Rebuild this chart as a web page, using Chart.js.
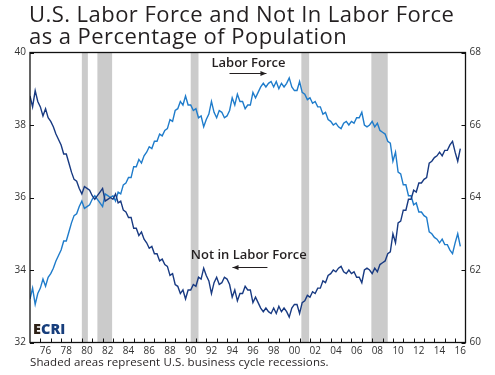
<!DOCTYPE html>
<html><head><meta charset="utf-8">
<script src="https://cdn.jsdelivr.net/npm/chart.js@4/dist/chart.umd.min.js"></script>
<style>
html,body{margin:0;padding:0;background:#fff;}
#wrap{position:relative;width:495px;height:375px;overflow:hidden;background:#fff;}
canvas{position:absolute;left:0;top:0;}
#title{position:absolute;left:29px;top:2px;font-family:'Open Sans';font-weight:500;font-size:22px;letter-spacing:0.45px;line-height:22px;color:#231f20;white-space:nowrap;}
#note{position:absolute;left:30px;top:355px;font-family:'Open Sans';font-size:11.5px;letter-spacing:0.1px;line-height:14px;color:#231f20;white-space:nowrap;}
#logo{position:absolute;left:33px;top:321px;font-family:'Open Sans';font-weight:800;font-size:14.5px;line-height:16px;}
</style></head>
<body><div id="wrap"><canvas id="c" width="495" height="375"></canvas>
<div id="title">U.S. Labor Force and Not In Labor Force<br>as a Percentage of Population</div>
<div id="logo"><span style="color:#2d2016">E</span><span style="color:#173e7c">CRI</span></div>
<div id="note">Shaded areas represent U.S. business cycle recessions.</div>
</div>
<script>
// quarterly observations starting 1975 Q1
const startYear = 1975;
const laborForce = [
 61.2,61.5,61.05,61.35,  61.5,61.75,61.55,61.8,  61.9,62.05,62.25,62.4,  62.55,62.8,62.8,63.05,
 63.3,63.5,63.55,63.75,  63.9,63.7,63.75,63.8,  63.95,64.05,63.95,63.85,  63.75,64.1,64.05,64.0,
 64.05,63.9,64.15,64.1,  64.35,64.4,64.55,64.55, 64.85,64.85,65.05,64.95, 65.15,65.25,65.4,65.35,
 65.55,65.55,65.75,65.7, 65.85,65.9,66.15,66.1,  66.4,66.45,66.65,66.55,  66.8,66.55,66.55,66.4,
 66.45,66.2,66.25,65.95, 66.15,66.3,66.65,66.35, 66.2,66.4,66.35,66.2,    66.25,66.4,66.75,66.55,
 66.85,66.65,66.65,66.45, 66.55,66.55,66.9,66.75, 66.9,67.05,67.15,67.05,  67.15,67.2,67.05,67.2,
 67.0,67.15,67.05,67.15, 67.3,67.05,66.95,66.95,  67.2,66.9,66.85,66.7,   66.75,66.6,66.65,66.5,
 66.5,66.3,66.35,66.15,  66.1,66.0,66.05,65.95,   65.9,66.05,66.1,66.0,   66.1,66.05,66.2,66.2,
 66.35,66.0,65.95,66.0,  66.1,65.95,66.05,65.85,  65.8,65.75,65.55,65.5,  65.0,65.25,64.7,64.65,
 64.35,64.35,64.05,64.05, 63.8,63.85,63.6,63.6,   63.5,63.45,63.05,63.0,  62.9,62.85,62.75,62.85,
 62.7,62.7,62.55,62.45,  62.75,63.0,62.65
];
const notInLaborForce = [
 38.8,38.5,38.95,38.65,  38.5,38.25,38.45,38.2,  38.1,37.95,37.75,37.6,  37.45,37.2,37.2,36.95,
 36.7,36.5,36.45,36.25,  36.1,36.3,36.25,36.2,  36.05,35.95,36.05,36.15,  36.25,35.9,35.95,36.0,
 35.95,36.1,35.85,35.9,  35.65,35.6,35.45,35.45, 35.15,35.15,34.95,35.05, 34.85,34.75,34.6,34.65,
 34.45,34.45,34.25,34.3, 34.15,34.1,33.85,33.9,  33.6,33.55,33.35,33.45,  33.2,33.45,33.45,33.6,
 33.55,33.8,33.75,34.05, 33.85,33.7,33.35,33.65, 33.8,33.6,33.65,33.8,    33.75,33.6,33.25,33.45,
 33.15,33.35,33.35,33.55, 33.45,33.45,33.1,33.25, 33.1,32.95,32.85,32.95,  32.85,32.8,32.95,32.8,
 33.0,32.85,32.95,32.85, 32.7,32.95,33.05,33.05,  32.8,33.1,33.15,33.3,   33.25,33.4,33.35,33.5,
 33.5,33.7,33.65,33.85,  33.9,34.0,33.95,34.05,   34.1,33.95,33.9,34.0,   33.9,33.95,33.8,33.8,
 33.65,34.0,34.05,34.0,  33.9,34.05,33.95,34.15,  34.2,34.25,34.45,34.5,  35.0,34.75,35.3,35.35,
 35.65,35.65,35.95,35.95, 36.2,36.15,36.4,36.4,   36.5,36.55,36.95,37.0,  37.1,37.15,37.25,37.15,
 37.3,37.3,37.45,37.55,  37.25,37.0,37.35
];
// recession periods (decimal years)
const recessions = [[1980.0,1980.58],[1981.5,1982.92],[1990.5,1991.25],[2001.17,2001.92],[2007.92,2009.5]];
const xTickYears = [1976.5,1978.5,1980.5,1982.5,1984.5,1986.5,1988.5,1990.5,1992.5,1994.5,1996.5,1998.5,2000.5,2002.5,2004.5,2006.5,2008.5,2010.5,2012.5,2014.5,2016.5];
const xTickLabels = ['76','78','80','82','84','86','88','90','92','94','96','98','00','02','04','06','08','10','12','14','16'];
const leftTicks = [32,34,36,38,40];
const rightTicks = [60,62,64,66,68];

const quarterX = laborForce.map((_, i) => startYear + i / 4);
const lfPts = laborForce.map((v, i) => ({x: quarterX[i], y: v}));
const nilfPts = notInLaborForce.map((v, i) => ({x: quarterX[i], y: v}));

const annotations = [
  {text:'Labor Force', x:1996.07, y:67.71, axis:'yR', arrow:[1994.24,1997.8,67.43]},
  {text:'Not in Labor Force', x:1996.1, y:34.41, axis:'yL', arrow:[1997.9,1994.53,34.09]}
];

const ink = '#231f20';
const deco = {
  id:'deco',
  beforeDatasetsDraw(chart){
    const {ctx, chartArea:a, scales:{x}} = chart;
    ctx.save();
    ctx.fillStyle = '#cbcbcb';
    recessions.forEach(([s,e]) => {
      const x0 = x.getPixelForValue(s), x1 = x.getPixelForValue(e);
      ctx.fillRect(x0, a.top, x1 - x0, a.bottom - a.top);
    });
    ctx.restore();
  },
  afterDatasetsDraw(chart){
    const {ctx, chartArea:a, scales} = chart;
    const x = scales.x;
    ctx.save();
    ctx.strokeStyle = '#111';
    ctx.lineWidth = 1.3;
    ctx.strokeRect(a.left, a.top, a.right - a.left, a.bottom - a.top);
    ctx.lineWidth = 1;
    ctx.beginPath();
    for (let yr = 1976; yr <= 2016; yr++) {
      const px = Math.round(x.getPixelForValue(yr)) + 0.5;
      ctx.moveTo(px, a.bottom); ctx.lineTo(px, a.bottom - 4);
    }
    leftTicks.forEach(v => { const py = Math.round(scales.yL.getPixelForValue(v)) + 0.5; ctx.moveTo(a.left, py); ctx.lineTo(a.left + 4, py); });
    rightTicks.forEach(v => { const py = Math.round(scales.yR.getPixelForValue(v)) + 0.5; ctx.moveTo(a.right, py); ctx.lineTo(a.right - 4, py); });
    ctx.stroke();
    // annotations
    ctx.fillStyle = ink; ctx.strokeStyle = ink;
    ctx.font = '600 13px "Open Sans"';
    ctx.textAlign = 'center'; ctx.textBaseline = 'middle';
    annotations.forEach(an => {
      const ys = scales[an.axis];
      ctx.fillText(an.text, x.getPixelForValue(an.x), ys.getPixelForValue(an.y));
      const x0 = x.getPixelForValue(an.arrow[0]), x1 = x.getPixelForValue(an.arrow[1]);
      const py = Math.round(ys.getPixelForValue(an.arrow[2])) + 0.5;
      ctx.lineWidth = 1;
      ctx.beginPath(); ctx.moveTo(x0, py); ctx.lineTo(x1, py); ctx.stroke();
      const d = Math.sign(x1 - x0);
      ctx.beginPath(); ctx.moveTo(x1, py); ctx.lineTo(x1 - d*6, py - 2.5); ctx.lineTo(x1 - d*6, py + 2.5); ctx.closePath(); ctx.fill();
    });
    ctx.restore();
  }
};

const tickFont = {family:'Open Sans', size:10};
new Chart(document.getElementById('c'), {
  type:'line',
  data:{datasets:[
    {label:'Not in Labor Force', data:nilfPts, yAxisID:'yL', borderColor:'#183a82', borderWidth:1.4, pointRadius:0, order:0},
    {label:'Labor Force', data:lfPts, yAxisID:'yR', borderColor:'#1f7ccb', borderWidth:1.4, pointRadius:0, order:1}
  ]},
  options:{
    responsive:false, animation:false, devicePixelRatio:1,
    layout:{padding:{top:52.5,left:0,right:0,bottom:0}},
    plugins:{legend:{display:false}, tooltip:{enabled:false}, title:{display:false}},
    elements:{line:{tension:0}, point:{radius:0}},
    scales:{
      x:{type:'linear', min:1975, max:2017,
         grid:{display:false, drawTicks:false}, border:{display:false},
         afterBuildTicks:s => { s.ticks = xTickYears.map(v => ({value:v})); },
         afterFit:s => { s.height = 32.5; },
         ticks:{autoSkip:false, maxRotation:0, minRotation:0, padding:3, color:'#333', font:tickFont,
                callback:(v, i) => xTickLabels[i]}},
      yL:{position:'left', min:32, max:40,
          grid:{display:false, drawTicks:false}, border:{display:false},
          afterBuildTicks:s => { s.ticks = leftTicks.map(v => ({value:v})); },
          afterFit:s => { s.width = 30; },
          ticks:{padding:4, color:'#333', font:tickFont}},
      yR:{position:'right', min:60, max:68,
          grid:{display:false, drawTicks:false}, border:{display:false},
          afterBuildTicks:s => { s.ticks = rightTicks.map(v => ({value:v})); },
          afterFit:s => { s.width = 29.5; },
          ticks:{padding:4, color:'#333', font:tickFont}}
    }
  },
  plugins:[deco]
});
</script>
</body></html>
